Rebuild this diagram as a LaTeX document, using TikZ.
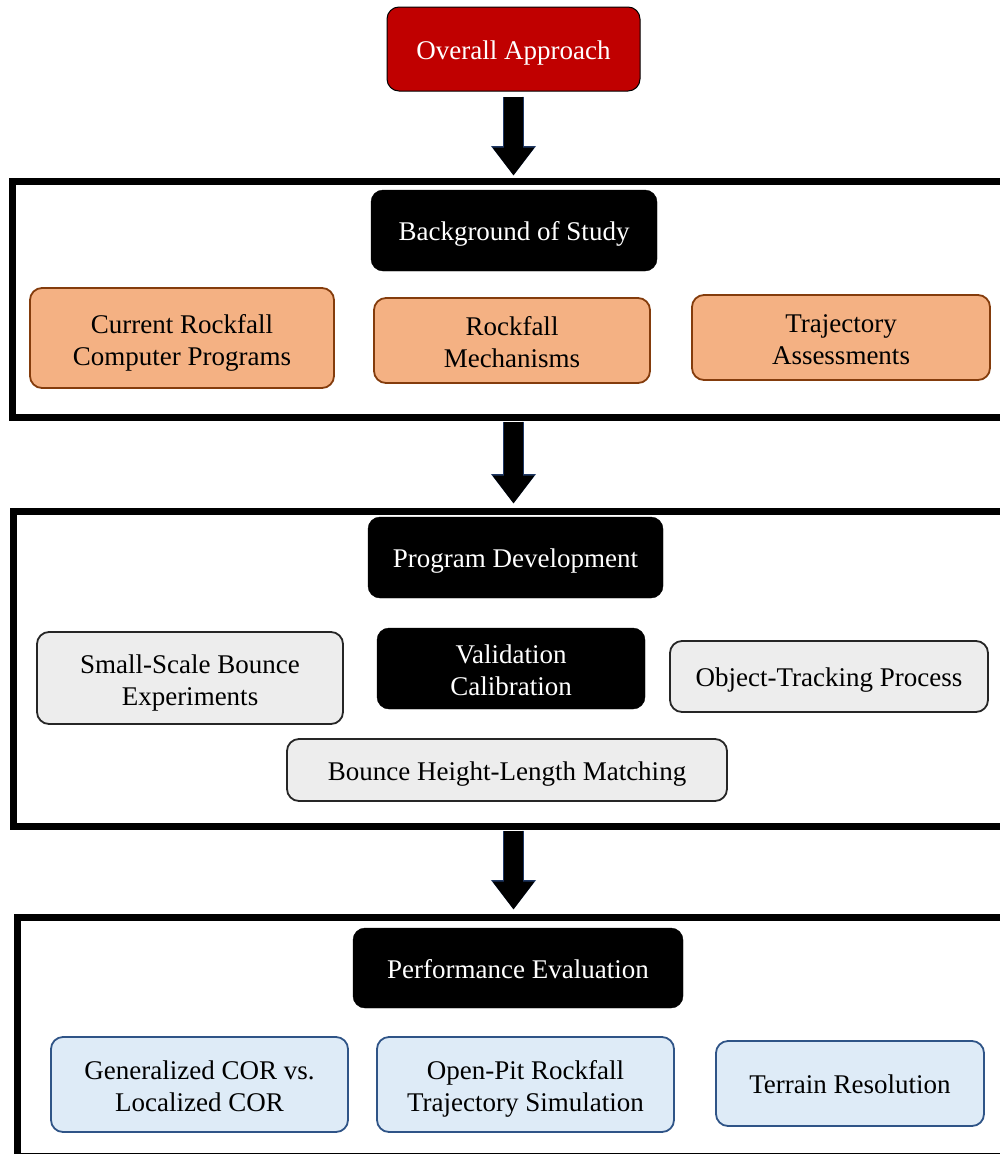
\documentclass[tikz,border=0pt]{standalone}
\usepackage{fontspec}
\setmainfont{Liberation Serif}
\usetikzlibrary{arrows.meta}
\definecolor{boxred}{HTML}{C00000}
\definecolor{boxorange}{HTML}{F4B183}
\definecolor{lineorange}{HTML}{843C0C}
\definecolor{boxgrey}{HTML}{EDEDED}
\definecolor{boxblue}{HTML}{DEEBF7}
\definecolor{lineblue}{HTML}{2F5487}
\definecolor{arrownavy}{HTML}{1F3864}
\newcommand{\toprow}{\rule{0pt}{28.5pt}}
\begin{document}
\begin{tikzpicture}
  [x=1pt,y=-1pt,
   every node/.style={rounded corners=12pt,align=center,inner sep=0pt,
     font=\fontsize{27}{32}\selectfont,
     execute at begin node={\rule{0pt}{26pt}},
     execute at end node={\rule[-6pt]{0pt}{6pt}}},
   redbox/.style={fill=boxred,draw=black,line width=1pt,text=white},
   headbox/.style={fill=black,draw=black,text=white},
   orangebox/.style={fill=boxorange,draw=lineorange,line width=1.8pt},
   greybox/.style={fill=boxgrey,draw=black!85,line width=1.8pt},
   bluebox/.style={fill=boxblue,draw=lineblue,line width=1.8pt},
   frame/.style={draw=black,line width=7pt,rounded corners=0pt},
   bigarrow/.style={line width=19pt,-{Triangle[length=28pt,width=40pt]},
     preaction={draw=arrownavy,line width=21pt,-{Triangle[length=29.5pt,width=43pt]}}}]
  \useasboundingbox (0,0) rectangle (999,1154);

  % frames
  \node[frame,minimum width=991pt,minimum height=236pt] (frameA) at (507.5,299) {};
  \node[frame,minimum width=989.5pt,minimum height=315pt] (frameB) at (508.25,668.5) {};
  \node[frame,minimum width=986pt,minimum height=239pt] (frameC) at (510,1036.5) {};

  \node[redbox,minimum width=253pt,minimum height=84pt] (over) at (513.5,49) {Overall Approach};

  \node[headbox,minimum width=286pt,minimum height=81pt] (bgstudy) at (514,230.5) {Background of Study};
  \node[orangebox,minimum width=304pt,minimum height=100pt] (current) at (182,338) {\toprow Current Rockfall\\Computer Programs};
  \node[orangebox,minimum width=276pt,minimum height=85pt] (mech) at (512,340.5) {\toprow Rockfall\\Mechanisms};
  \node[orangebox,minimum width=298pt,minimum height=85pt] (traj) at (841,337.5) {\toprow Trajectory\\Assessments};

  \node[headbox,minimum width=295pt,minimum height=81pt] (progdev) at (515.5,557.5) {Program Development};
  \node[greybox,minimum width=306pt,minimum height=92pt] (bounce) at (190,678) {\toprow Small-Scale Bounce\\Experiments};
  \node[headbox,minimum width=268pt,minimum height=81pt] (valid) at (511,668.5) {\toprow Validation\\Calibration};
  \node[greybox,minimum width=318pt,minimum height=71pt] (tracking) at (829,676.5) {Object-Tracking Process};
  \node[greybox,minimum width=440pt,minimum height=62pt] (matching) at (507,770) {Bounce Height-Length Matching};

  \node[headbox,minimum width=330pt,minimum height=80pt] (perf) at (518,968) {Performance Evaluation};
  \node[bluebox,minimum width=297pt,minimum height=95pt] (cor) at (199.5,1084.5) {\toprow Generalized COR vs.\\Localized COR};
  \node[bluebox,minimum width=297pt,minimum height=95pt] (openpit) at (525.5,1084.5) {\toprow Open-Pit Rockfall\\Trajectory Simulation};
  \node[bluebox,minimum width=268pt,minimum height=85pt] (terrain) at (850,1083.5) {Terrain Resolution};

  % block arrows between the stages
  \draw[bigarrow,shorten <=5pt,shorten >=2pt] (over.south) -- (frameA.north -| over.south);
  \foreach \from/\to in {frameA/frameB,frameB/frameC}
    \draw[bigarrow,shorten <=1pt,shorten >=4pt] (\from.south -| over.south) -- (\to.north -| over.south);

\end{tikzpicture}
\end{document}
